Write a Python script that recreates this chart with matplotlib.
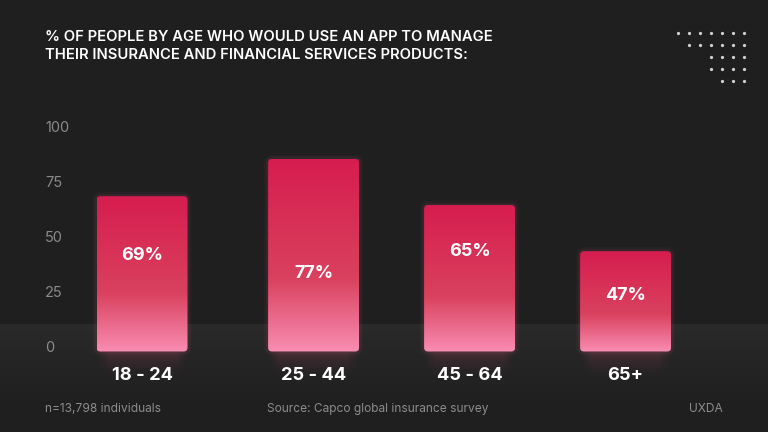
import numpy as np
import matplotlib
matplotlib.use("Agg")
import matplotlib.pyplot as plt
from matplotlib.patches import FancyBboxPatch
from matplotlib.colors import to_rgb

# ---------------- data ----------------
categories = ["18 - 24", "25 - 44", "45 - 64", "65+"]
bar_heights = [69, 86, 65, 44]          # bar tops as drawn against the axis
bar_labels = ["69%", "77%", "65%", "47%"]
label_levels = [42, 34, 44, 24]          # vertical level of the in-bar labels
y_ticks = [0, 25, 50, 75, 100]
title = "% OF PEOPLE BY AGE WHO WOULD USE AN APP TO MANAGE\nTHEIR INSURANCE AND FINANCIAL SERVICES PRODUCTS:"
footer_left = "n=13,798 individuals"
footer_mid = "Source: Capco global insurance survey"
footer_right = "UXDA"
dot_rows = [7, 6, 4, 4, 3]

# ---------------- layout / style ----------------
W, H = 768, 432
BG = "#1f1f1f"
plt.rcParams['font.family'] = ['Inter', 'DejaVu Sans']
x_pos = [0, 1.1, 2.1, 3.1]          # category slots
px_x0, px_unit = 142, 156            # pixel center of slot 0, pixels per slot
px_y0, px_per = 348, 2.2             # pixel row of value 0, pixels per unit
bar_w = 91 / px_unit
base = -1.6

fig = plt.figure(figsize=(W / 100, H / 100), dpi=100, facecolor=BG)

# overlay (pixel coords) for background decorations
bg = fig.add_axes([0, 0, 1, 1], zorder=0)
bg.set_xlim(0, W); bg.set_ylim(H, 0); bg.axis("off")
bg.set_facecolor(BG)
band = np.linspace(0, 1, 100)[:, None]
c_top = np.array(to_rgb("#2b2b2b")); c_bot = np.array(to_rgb(BG))
band_img = c_top[None, None, :] * (1 - band[..., None] ** 0.8) + c_bot[None, None, :] * (band[..., None] ** 0.8)
band_img = np.repeat(band_img, 2, axis=1)
bg.imshow(band_img, extent=[0, W, 410, 324], aspect="auto", zorder=0)

# dots
for r, n in enumerate(dot_rows):
    xs = 744 - 11 * np.arange(n)
    bg.scatter(xs, np.full(n, 32.5 + 12 * r), s=5.5, color="#cfcfcf", linewidths=0, zorder=2)

# title and footer
bg.text(45, 46, title, color="white", fontsize=10.65, fontweight="semibold",
        va="center", ha="left", linespacing=1.3, zorder=3)
bg.text(45, 409, footer_left, color="#8c8c8c", fontsize=8.6, va="center", ha="left")
bg.text(267, 409, footer_mid, color="#8c8c8c", fontsize=8.6, va="center", ha="left")
bg.text(723, 409, footer_right, color="#8c8c8c", fontsize=8.6, va="center", ha="right")

# main axes (data coords)
ax = fig.add_axes([0, 0, 1, 1], zorder=1)
ax.patch.set_alpha(0)
ax.axis("off")

asp = px_unit / px_per
r = 4 / px_unit

grad_n = 256
t = np.linspace(0, 1, grad_n)  # 0 top -> 1 bottom
stops = [(0.0, "#d61d4f"), (0.62, "#d9415e"), (1.0, "#f98db3")]
cols = np.zeros((grad_n, 3))
for (t0, c0), (t1, c1) in zip(stops[:-1], stops[1:]):
    m = (t >= t0) & (t <= t1)
    f = ((t[m] - t0) / (t1 - t0))[:, None]
    cols[m] = np.array(to_rgb(c0)) * (1 - f) + np.array(to_rgb(c1)) * f
grad_img = np.repeat(cols[:, None, :], 2, axis=1)

# soft reflection under each bar
rt = np.linspace(0, 1, 64)[:, None]
rx = np.linspace(-1, 1, 64)[None, :]
refl = np.zeros((64, 64, 4))
refl[..., :3] = to_rgb("#e0507a")
refl[..., 3] = 0.17 * (1 - rt) ** 1.5 * np.clip((1 - np.abs(rx)) / 0.25, 0, 1)

for x, h, lab, ly, cat in zip(x_pos, bar_heights, bar_labels, label_levels, categories):
    x0 = x - bar_w / 2
    # glow
    for k, a in [(6, 0.035), (3, 0.07)]:
        g = FancyBboxPatch((x0, base), bar_w, h - base,
                           boxstyle=f"round,pad=0,rounding_size={r}", mutation_aspect=asp,
                           facecolor="none", edgecolor="#ff6b96", linewidth=k, alpha=a, zorder=2)
        ax.add_patch(g)
    refl_h = 28 / px_per
    ax.imshow(refl, extent=[x0, x0 + bar_w, base - refl_h, base],
              aspect="auto", zorder=2, interpolation="bilinear")
    patch = FancyBboxPatch((x0, base), bar_w, h - base,
                           boxstyle=f"round,pad=0,rounding_size={r}", mutation_aspect=asp,
                           facecolor="none", edgecolor="none", zorder=3)
    ax.add_patch(patch)
    im = ax.imshow(grad_img, extent=[x0, x0 + bar_w, base, h], aspect="auto",
                   zorder=3, interpolation="bilinear")
    im.set_clip_path(patch)
    ax.text(x, ly, lab, color="white", fontsize=13, fontweight="bold",
            ha="center", va="center", zorder=4)
    ax.text(x, -12.7, cat, color="white", fontsize=13.2, fontweight="bold",
            ha="center", va="center", zorder=4)

ytr = ax.get_yaxis_transform()
for v in y_ticks:
    ax.text(45 / W, v, str(v), transform=ytr, color="#8a8a8a", fontsize=10.5,
            ha="left", va="center", zorder=4)

ax.set_xlim(-px_x0 / px_unit, (W - px_x0) / px_unit)
ax.set_ylim(-(H - px_y0) / px_per, px_y0 / px_per)

fig.savefig("out.png", dpi=100, facecolor=BG)
